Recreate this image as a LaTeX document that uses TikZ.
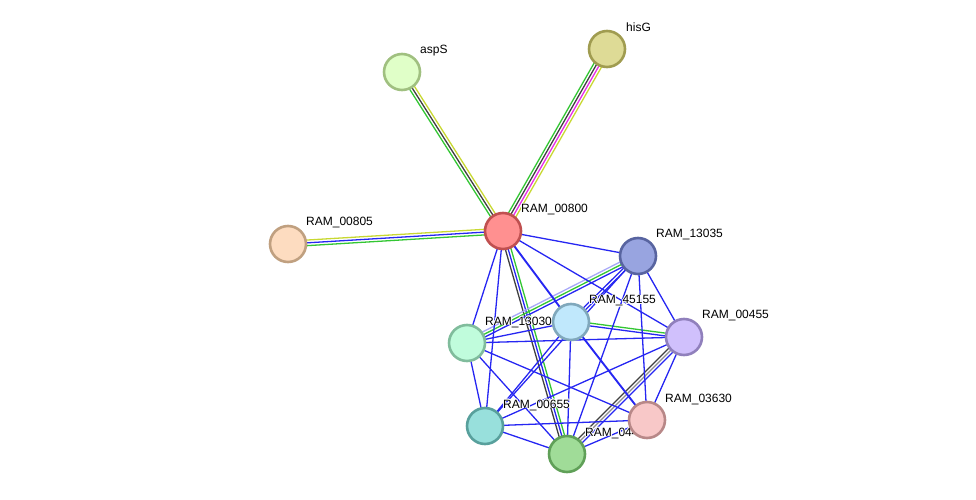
\documentclass[tikz,border=0pt]{standalone}
\usepackage{fontspec}
\setmainfont{Liberation Sans}
\usetikzlibrary{calc}
\definecolor{eblue}{HTML}{2626F2}
\definecolor{egreen}{HTML}{33C633}
\definecolor{egray}{HTML}{404040}
\definecolor{eyellow}{HTML}{C8D832}
\definecolor{emag}{HTML}{E82EE8}
\definecolor{elav}{HTML}{A8A8F8}
\tikzset{
  prot/.style={circle, minimum size=36pt, inner sep=0pt, line width=2.6pt},
  lbl/.style={anchor=west, inner sep=0pt, font=\fontsize{12}{14}\selectfont},
  edge/.style={line width=1.3pt},
}
\newcommand{\medge}[3]{%
  \foreach \cc [count=\ii] in {#3} {\xdef\nlines{\ii}}%
  \foreach \cc [count=\ii] in {#3} {%
    \pgfmathsetmacro{\off}{(\ii-(\nlines+1)/2)*2.8}%
    \draw[edge, color=\cc] ($(#1)!\off pt!90:(#2)$) -- ($(#2)!\off pt!-90:(#1)$);
  }%
}
\newcommand{\halolabel}[3]{%
  \foreach \dx/\dy in {0.9/0,-0.9/0,0/0.9,0/-0.9,0.65/0.65,-0.65/0.65,0.65/-0.65,-0.65/-0.65}
    \node[lbl, text=white] at ([shift={(\dx pt,\dy pt)}]#1) {#3};
  \node[lbl] (#2) at (#1) {#3};
}
\begin{document}
\begin{tikzpicture}[x=1pt,y=-1pt]
\useasboundingbox (0,0) rectangle (976,500);
% node positions
\coordinate (paspS) at (402,72);
\coordinate (phisG) at (607,49);
\coordinate (p805) at (288,244);
\coordinate (p800) at (503,231);
\coordinate (p135) at (638,256);
\coordinate (p451) at (571,322);
\coordinate (p130) at (467,343);
\coordinate (p455) at (684,337);
\coordinate (p655) at (485,426);
\coordinate (p04) at (567,454);
\coordinate (p363) at (647,420);
% multicolour edges
\medge{p800}{paspS}{eyellow,egray,egreen}
\medge{p800}{phisG}{eyellow,emag,egray,egreen}
\medge{p800}{p805}{eyellow,eblue,egreen}
\medge{p800}{p04}{egray,eblue,egreen}
\medge{p135}{p130}{elav,egreen,eblue}
\medge{p451}{p455}{eblue,egreen}
\medge{p455}{p04}{egray,egray!60,eblue}
\medge{p135}{p451}{eblue,eblue}
% single blue edges
\foreach \a/\b in {p800/p135, p800/p130, p800/p455, p800/p655,
  p135/p455, p135/p655, p135/p04, p135/p363,
  p451/p130, p451/p655, p451/p04,
  p130/p455, p130/p655, p130/p04, p130/p363,
  p455/p655, p455/p363,
  p655/p04, p655/p363, p04/p363}
  \draw[edge, eblue] (\a) -- (\b);
\draw[edge, eblue, line width=1.9pt] (p800) -- (p451);
\draw[edge, eblue, line width=1.9pt] (p451) -- (p363);
% labels
\halolabel{$(paspS)+(18,-21)$}{laspS}{aspS}
\halolabel{$(phisG)+(19,-22)$}{lhisG}{hisG}
\halolabel{$(p805)+(18,-21)$}{l805}{RAM\_00805}
\halolabel{$(p800)+(18,-21)$}{l800}{RAM\_00800}
\halolabel{$(p135)+(18,-21)$}{l135}{RAM\_13035}
\halolabel{$(p451)+(18,-21)$}{l451}{RAM\_45155}
\halolabel{$(p130)+(18,-21)$}{l130}{RAM\_13030}
\halolabel{$(p455)+(18,-21)$}{l455}{RAM\_00455}
\halolabel{$(p655)+(18,-21)$}{l655}{RAM\_00655}
\halolabel{$(p04)+(18,-21)$}{l04}{RAM\_044}
\halolabel{$(p363)+(18,-21)$}{l363}{RAM\_03630}
% nodes
\node[prot, draw={rgb,255:red,160;green,192;blue,128}, fill={rgb,255:red,224;green,255;blue,200}] (aspS) at (paspS) {};
\node[prot, draw={rgb,255:red,160;green,156;blue,80}, fill={rgb,255:red,222;green,219;blue,150}] (hisG) at (phisG) {};
\node[prot, draw={rgb,255:red,192;green,160;blue,128}, fill={rgb,255:red,253;green,220;blue,192}] (n805) at (p805) {};
\node[prot, draw={rgb,255:red,192;green,80;blue,80}, fill={rgb,255:red,255;green,144;blue,144}] (n800) at (p800) {};
\node[prot, draw={rgb,255:red,88;green,100;blue,160}, fill={rgb,255:red,152;green,164;blue,224}] (n135) at (p135) {};
\node[prot, draw={rgb,255:red,128;green,168;blue,188}, fill={rgb,255:red,192;green,232;blue,252}] (n451) at (p451) {};
\node[prot, draw={rgb,255:red,128;green,188;blue,156}, fill={rgb,255:red,192;green,252;blue,220}] (n130) at (p130) {};
\node[prot, draw={rgb,255:red,144;green,128;blue,188}, fill={rgb,255:red,208;green,192;blue,252}] (n455) at (p455) {};
\node[prot, draw={rgb,255:red,88;green,160;blue,156}, fill={rgb,255:red,152;green,224;blue,220}] (n655) at (p655) {};
\node[prot, draw={rgb,255:red,96;green,160;blue,88}, fill={rgb,255:red,160;green,220;blue,152}] (n04) at (p04) {};
\node[prot, draw={rgb,255:red,184;green,136;blue,136}, fill={rgb,255:red,248;green,200;blue,200}] (n363) at (p363) {};
\end{tikzpicture}
\end{document}
